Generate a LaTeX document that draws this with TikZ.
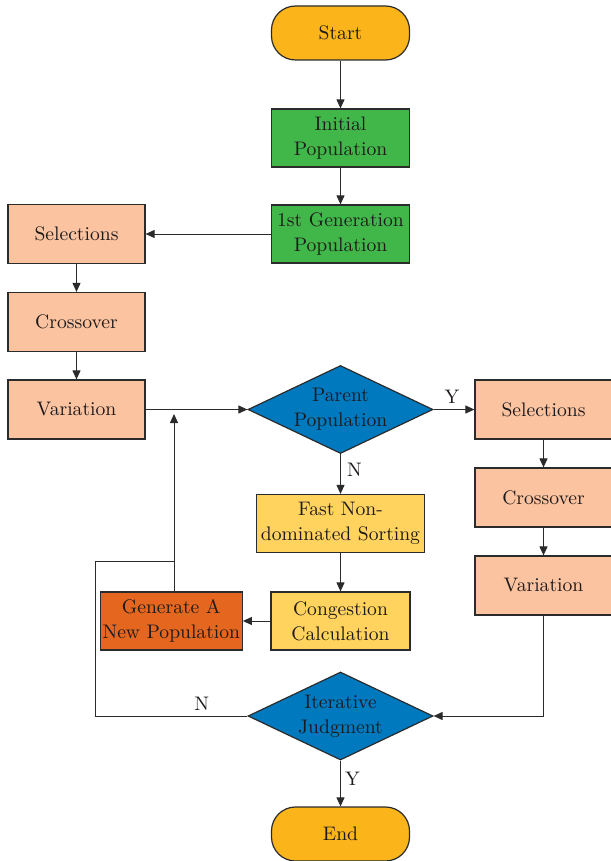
\documentclass[tikz,border=0pt]{standalone}
\usepackage{fontspec}
\setmainfont{lmroman10-regular}[Extension=.otf]
\usetikzlibrary{shapes.geometric,arrows.meta}
\definecolor{linec}{HTML}{2B2B2B}
\definecolor{txtc}{HTML}{1E1A1B}
\definecolor{termc}{HTML}{FBB51B}
\definecolor{greenc}{HTML}{41B649}
\definecolor{salmonc}{HTML}{FBC3A0}
\definecolor{bluec}{HTML}{0079BF}
\definecolor{yellowc}{HTML}{FFD35E}
\definecolor{darkorc}{HTML}{E5661F}
\newcommand\figfont{\fontsize{19.6}{25}\selectfont}
\begin{document}
\begin{tikzpicture}[x=1pt,y=-1pt,
  every node/.style={text=txtc,font=\figfont},
  boxnode/.style={draw=linec,line width=1.2pt,rectangle,minimum width=138pt,minimum height=58pt,inner sep=0pt,align=center},
  termnode/.style={boxnode,fill=termc,rounded corners=24pt,minimum height=54pt},
  greennode/.style={boxnode,fill=greenc},
  salmonnode/.style={boxnode,fill=salmonc,minimum width=137pt,minimum height=59pt},
  yellownode/.style={boxnode,fill=yellowc},
  decnode/.style={draw=linec,line width=1.2pt,diamond,fill=bluec,minimum width=185pt,minimum height=88pt,inner sep=0pt},
  conn/.style={draw=linec,line width=1pt},
  arr/.style={conn,-{Triangle[length=9pt,width=8pt]}},
  lbl/.style={inner sep=0pt}
]
\useasboundingbox (0,0) rectangle (610,861);

\node[termnode] (start) at (340.5,33) {Start};
\node[greennode] (init) at (340.5,138) {Initial\\Population};
\node[greennode] (gen1) at (340.5,234) {1st Generation\\Population};
\node[salmonnode] (selL) at (76.5,234) {Selections};
\node[salmonnode] (crossL) at (76.5,322) {Crossover};
\node[salmonnode] (varL) at (76.5,409.5) {Variation};
\node[decnode,label={[align=center,inner sep=0pt]center:Parent\\Population}] (par) at (340.5,409.5) {};
\node[salmonnode] (selR) at (543.5,409.5) {Selections};
\node[salmonnode] (crossR) at (543.5,497.5) {Crossover};
\node[salmonnode] (varR) at (543.5,585.5) {Variation};
\node[yellownode,minimum width=168pt] (fast) at (340.5,523.5) {Fast Non-\\dominated Sorting};
\node[yellownode,minimum width=139pt] (cong) at (340.5,621) {Congestion\\Calculation};
\node[boxnode,fill=darkorc,minimum width=142pt] (newp) at (171.3,621) {Generate A\\New Population};
\node[decnode,label={[align=center,inner sep=0pt]center:Iterative\\Judgment}] (itj) at (340.5,716) {};
\node[termnode] (end) at (340.5,834) {End};

\coordinate (merge) at (174,561);
\coordinate (upTip) at (174,414);
\coordinate (leftDown) at (95,716);
\coordinate (leftUp) at (95,561);
\coordinate (rightDown) at (543.5,716);

\draw[arr] (start) -- (init);
\draw[arr] (init) -- (gen1);
\draw[arr] (gen1) -- (selL);
\draw[arr] (selL) -- (crossL);
\draw[arr] (crossL) -- (varL);
\draw[arr] (varL) -- (par.west);
\draw[arr] (par.east) -- node[lbl,pos=0.45,above=6pt] {Y} (selR);
\draw[arr] (par.south) -- node[lbl,pos=0.4,right=6pt] {N} (fast);
\draw[arr] (selR) -- (crossR);
\draw[arr] (crossR) -- (varR);
\draw[arr] (fast) -- (cong);
\draw[arr] (cong) -- (newp);
\draw[conn] (newp.north -| merge) -- (merge);
\draw[arr] (merge) -- (upTip);
\draw[conn] (itj.west) -- node[lbl,pos=0.3,above=5pt] {N} (leftDown) -- (leftUp) -- (merge);
\draw[arr] (varR.south) -- (rightDown) -- (itj.east);
\draw[arr] (itj.south) -- node[lbl,pos=0.4,right=4pt] {Y} (end);
\end{tikzpicture}
\end{document}
